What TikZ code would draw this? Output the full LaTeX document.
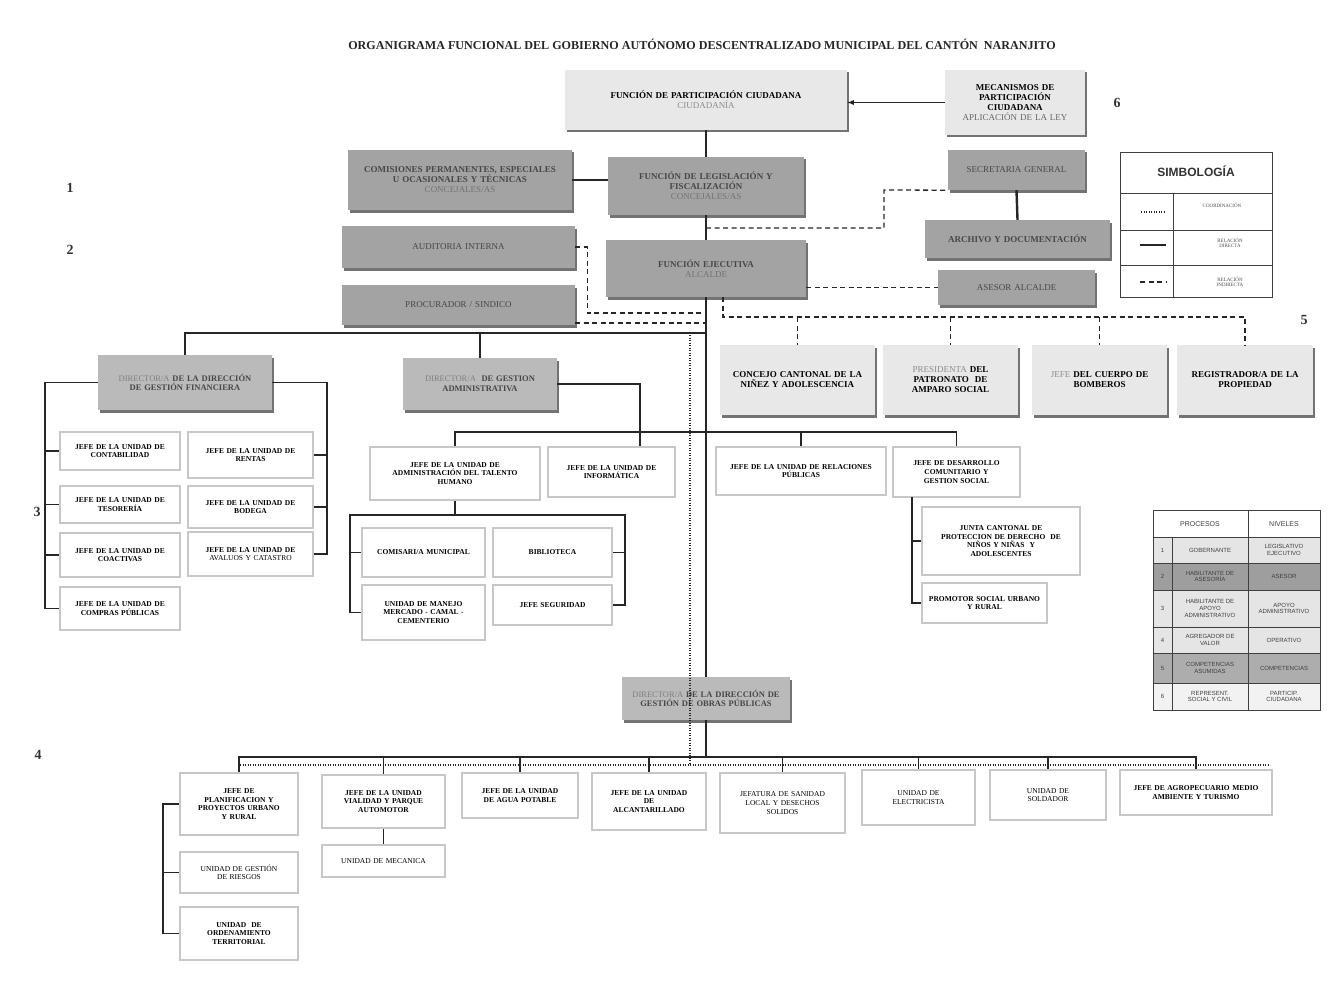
\documentclass[tikz,border=0pt]{standalone}
\usepackage{fontspec}
\setmainfont{Liberation Serif}
\newfontfamily\legendfont{Liberation Sans}
\usetikzlibrary{shadows}

\begin{document}
\begin{tikzpicture}[x=1pt, y=-1pt,
  every node/.style={align=center, inner xsep=4pt, inner ysep=2pt},
  big/.style={font=\fontsize{9}{10}\selectfont\bfseries},
  txt/.style={font=\fontsize{7.5}{8.6}\selectfont\bfseries},
  shade/.style={drop shadow={shadow xshift=1.5pt, shadow yshift=-2.5pt, fill=black!55, opacity=1}},
  light/.style={big, fill=black!9, shade},
  dark/.style={big, fill=black!36, text=black!72, shade},
  head/.style={dark, fill=black!27, font=\fontsize{8.5}{9.6}\selectfont\bfseries},
  unit/.style={txt, fill=white, draw=black!22, line width=1.8pt},
  num/.style={font=\fontsize{14}{16}\selectfont\bfseries, text=black!80},
  tab/.style={font=\legendfont\fontsize{6}{6.8}\selectfont, text=black!75, inner sep=0pt},
  conn/.style={draw=black!85, line width=1.3pt},
  trunk/.style={draw=black!85, line width=2.4pt},
  indirect/.style={draw=black!85, line width=1.3pt, dash pattern=on 5pt off 3.5pt},
  coord/.style={draw=black!85, line width=1.7pt, dash pattern=on 1.2pt off 1.3pt}]

\path[fill=white] (0,0) rectangle (1336,1006);
\useasboundingbox (0,0) rectangle (1336,1006);

\node[font=\fontsize{12.1}{14}\selectfont\bfseries, text=black!85] (T) at (702,44) {ORGANIGRAMA FUNCIONAL DEL GOBIERNO AUT\'ONOMO DESCENTRALIZADO MUNICIPAL DEL CANT\'ON \ NARANJITO};

\node[light, text width=274pt, minimum height=60pt] (PC) at (706,100) {FUNCI\'ON DE PARTICIPACI\'ON CIUDADANA\\{\mdseries\color{black!45}CIUDADAN\'IA}};
\node[light, text width=132pt, minimum height=65pt] (MP) at (1015,102.5) {MECANISMOS DE\\PARTICIPACI\'ON\\CIUDADANA\\{\mdseries\color{black!60}APLICACI\'ON DE LA LEY}};
\node[num] (N6) at (1117,103) {6};

\node[dark, text width=216pt, minimum height=60pt] (CP) at (460,180) {COMISIONES PERMANENTES, ESPECIALES\\U OCASIONALES Y T\'ECNICAS\\{\mdseries\color{black!55}CONCEJALES/AS}};
\node[dark, text width=188pt, minimum height=58pt] (LF) at (706,186) {FUNCI\'ON DE LEGISLACI\'ON Y\\FISCALIZACI\'ON\\{\mdseries\color{black!55}CONCEJALES/AS}};
\node[dark, text width=225pt, minimum height=42pt] (AI) at (458.5,247) {\mdseries AUDITORIA INTERNA};
\node[dark, text width=225pt, minimum height=40pt] (PS) at (458.5,305) {\mdseries PROCURADOR / SINDICO};
\node[dark, text width=192pt, minimum height=57pt] (FE) at (706,268.5) {FUNCI\'ON EJECUTIVA\\{\mdseries\color{black!55}ALCALDE}};
\node[dark, text width=129pt, minimum height=40pt] (SG) at (1016.5,170) {\mdseries SECRETARIA GENERAL};
\node[dark, text width=177pt, minimum height=38pt] (AD) at (1017.5,239) {ARCHIVO Y DOCUMENTACI\'ON};
\node[dark, text width=149pt, minimum height=35pt] (AA) at (1016.5,287.5) {\mdseries ASESOR ALCALDE};

\node[num] (N1) at (70,188) {1};
\node[num] (N2) at (70,250) {2};
\node[num] (N3) at (37,512) {3};
\node[num] (N4) at (38,755) {4};
\node[num] (N5) at (1304,320) {5};

\node[light, text width=147pt, minimum height=70pt] (CC) at (797.5,380) {CONCEJO CANTONAL DE LA\\NI\~NEZ Y ADOLESCENCIA};
\node[light, text width=127pt, minimum height=70pt] (PA) at (950.5,380) {{\mdseries\color{black!45}PRESIDENTA} DEL\\PATRONATO \ DE\\AMPARO SOCIAL};
\node[light, text width=127pt, minimum height=70pt] (CB) at (1099.5,380) {{\mdseries\color{black!45}JEFE} DEL CUERPO DE\\BOMBEROS};
\node[light, text width=128pt, minimum height=70pt] (RP) at (1245,380) {REGISTRADOR/A DE LA\\PROPIEDAD};

\node[head, text width=166pt, minimum height=55pt] (GF) at (185,382.5) {{\mdseries\color{black!50}DIRECTOR/A} DE LA DIRECCI\'ON\\DE GESTI\'ON FINANCIERA};
\node[head, text width=146pt, minimum height=52pt] (GA) at (480,384) {{\mdseries\color{black!50}DIRECTOR/A} \ DE GESTION\\ADMINISTRATIVA};

\node[unit, text width=112pt, minimum height=38pt] (CT) at (120,451) {JEFE DE LA UNIDAD DE\\CONTABILIDAD};
\node[unit, text width=112pt, minimum height=37pt] (TS) at (120,504.5) {JEFE DE LA UNIDAD DE\\TESORER\'IA};
\node[unit, text width=112pt, minimum height=44pt] (CA) at (120,555) {JEFE DE LA UNIDAD DE\\COACTIVAS};
\node[unit, text width=112pt, minimum height=43pt] (CM) at (120,608.5) {JEFE DE LA UNIDAD DE\\COMPRAS P\'UBLICAS};
\node[unit, text width=117pt, minimum height=46pt] (RE) at (250.5,455) {JEFE DE LA UNIDAD DE\\RENTAS};
\node[unit, text width=117pt, minimum height=42pt] (BO) at (250.5,507) {JEFE DE LA UNIDAD DE\\BODEGA};
\node[unit, text width=117pt, minimum height=44pt] (AV) at (250.5,554) {JEFE DE LA UNIDAD DE\\{\mdseries AVALUOS Y CATASTRO}};

\node[unit, text width=162pt, minimum height=53pt] (TH) at (455,473.5) {JEFE DE LA UNIDAD DE\\ADMINISTRACI\'ON DEL TALENTO\\HUMANO};
\node[unit, text width=119pt, minimum height=50pt] (IN) at (611.5,472) {JEFE DE LA UNIDAD DE\\INFORM\'ATICA};
\node[unit, text width=115pt, minimum height=49pt] (CS) at (423.5,552.5) {COMISARI/A MUNICIPAL};
\node[unit, text width=111pt, minimum height=49pt] (BI) at (552.5,552.5) {BIBLIOTECA};
\node[unit, text width=115pt, minimum height=55pt] (UM) at (423.5,612.5) {UNIDAD DE MANEJO\\MERCADO - CAMAL -\\CEMENTERIO};
\node[unit, text width=111pt, minimum height=40pt] (JS) at (552.5,605) {JEFE SEGURIDAD};

\node[unit, text width=162pt, minimum height=48pt] (RR) at (801,471) {JEFE DE LA UNIDAD DE RELACIONES\\P\'UBLICAS};
\node[unit, text width=119pt, minimum height=50pt] (DC) at (956.5,472) {JEFE DE DESARROLLO\\COMUNITARIO Y\\GESTION SOCIAL};
\node[unit, text width=150pt, minimum height=68pt] (JC) at (1001,541) {JUNTA CANTONAL DE\\PROTECCION DE DERECHO \ DE\\NI\~NOS Y NI\~NAS \ Y\\ADOLESCENTES};
\node[unit, text width=117pt, minimum height=40pt] (PR) at (984.5,603) {PROMOTOR SOCIAL URBANO\\Y RURAL};

\node[head, text width=160pt, minimum height=43pt] (OP) at (706,698.5) {{\mdseries\color{black!50}DIRECTOR/A} DE LA DIRECCI\'ON DE\\GESTI\'ON DE OBRAS P\'UBLICAS};

\node[unit, text width=110pt, minimum height=62pt] (PL) at (239,804) {JEFE DE\\PLANIFICACION Y\\PROYECTOS URBANO\\Y RURAL};
\node[unit, text width=115pt, minimum height=53pt] (VI) at (383.5,801.5) {JEFE DE LA UNIDAD\\VIALIDAD Y PARQUE\\AUTOMOTOR};
\node[unit, text width=108pt, minimum height=45pt] (AP) at (520,795.5) {JEFE DE LA UNIDAD\\DE AGUA POTABLE};
\node[unit, text width=106pt, minimum height=57pt] (AL) at (649,801.5) {JEFE DE LA UNIDAD\\DE\\ALCANTARILLADO};
\node[unit, text width=117pt, minimum height=60pt, font=\fontsize{7.5}{8.6}\selectfont] (SA) at (782.5,803) {JEFATURA DE SANIDAD\\LOCAL Y DESECHOS\\SOLIDOS};
\node[unit, text width=105pt, minimum height=55pt, font=\fontsize{7.5}{8.6}\selectfont] (EL) at (918.5,797.5) {UNIDAD DE\\ELECTRICISTA};
\node[unit, text width=108pt, minimum height=50pt, font=\fontsize{7.5}{8.6}\selectfont] (SO) at (1048,795) {UNIDAD DE\\SOLDADOR};
\node[unit, text width=144pt, minimum height=45pt] (AG) at (1196,792.5) {JEFE DE AGROPECUARIO MEDIO\\AMBIENTE Y TURISMO};
\node[unit, text width=115pt, minimum height=32pt, font=\fontsize{7.5}{8.6}\selectfont] (ME) at (383.5,861) {UNIDAD DE MECANICA};
\node[unit, text width=110pt, minimum height=41pt, font=\fontsize{7.5}{8.6}\selectfont] (GR) at (239,872.5) {UNIDAD DE GESTI\'ON\\DE RIESGOS};
\node[unit, text width=110pt, minimum height=53pt] (OT) at (239,933.5) {UNIDAD \ DE\\ORDENAMIENTO\\TERRITORIAL};

\coordinate (hA) at (706,333);
\coordinate (hB) at (706,432);
\coordinate (hC) at (706,757);
\coordinate (tA) at (706,313);
\coordinate (tB) at (706,323);
\coordinate (tC) at (706,228);
\coordinate (sC) at (884,190);
\coordinate (r5) at (723,317);
\coordinate (dT) at (690,335);
\coordinate (dL) at (240,765);
\coordinate (dR) at (1270,765);
\coordinate (fL) at (45,383);
\coordinate (fR) at (327,383);
\coordinate (aR) at (640,384);
\coordinate (tL) at (350,515);
\coordinate (tR) at (625,515);
\coordinate (dC) at (912,497);
\coordinate (pL) at (163,805);

\draw[conn, -latex] (MP.west) -- (MP.west -| PC.east);
\draw[trunk] (PC.south) -- (LF.north);
\draw[trunk] (LF.south) -- (FE.north);
\draw[conn] (CP.east) -- (CP.east -| LF.west);
\draw[trunk] (SG.south) -- (AD.north);
\draw[trunk] (FE.south) -- (OP.north);
\draw[trunk] (OP.south) -- (hC);

\draw[indirect] (tC) -| (sC) -- (SG.south west);
\draw[indirect] (FE.east |- AA.west) -- (AA.west);
\draw[indirect] (AI.east) -- ++(12,0) |- (tA);
\draw[indirect] (PS.east |- tB) -- (tB);
\draw[indirect] (r5 |- FE.south) |- (r5 -| RP.north) -- (RP.north);
\draw[indirect] (r5 -| CC.north) -- (CC.north);
\draw[indirect] (r5 -| PA.north) -- (PA.north);
\draw[indirect] (r5 -| CB.north) -- (CB.north);

\draw[conn] (GF.north) |- (hA);
\draw[conn] (hA -| GA.north) -- (GA.north);
\draw[coord] (dT) -- (dT |- dL);
\draw[coord] (dL) -- (dR);

\draw[conn] (GF.west) -| (fL |- CM.west) -- (CM.west);
\draw[conn] (fL |- CT.west) -- (CT.west);
\draw[conn] (fL |- TS.west) -- (TS.west);
\draw[conn] (fL |- CA.west) -- (CA.west);
\draw[conn] (GF.east) -| (fR |- AV.east) -- (AV.east);
\draw[conn] (fR |- RE.east) -- (RE.east);
\draw[conn] (fR |- BO.east) -- (BO.east);

\draw[conn] (GA.east) -| (aR |- IN.north);
\draw[conn] (TH.north) |- (hB) -| (DC.north);
\draw[conn] (hB -| RR.north) -- (RR.north);
\draw[conn] (TH.south) -- (TH.south |- tL);
\draw[conn] (UM.west) -| (tL) -| (tR |- JS.east) -- (JS.east);
\draw[conn] (tL |- CS.west) -- (CS.west);
\draw[conn] (tR |- BI.east) -- (BI.east);

\draw[conn] (dC) |- (PR.west);
\draw[conn] (dC |- JC.west) -- (JC.west);

\draw[conn] (PL.north) |- (hC) -| (AG.north);
\draw[conn] (hC -| VI.north) -- (VI.north);
\draw[conn] (hC -| AP.north) -- (AP.north);
\draw[conn] (hC -| AL.north) -- (AL.north);
\draw[conn] (hC -| SA.north) -- (SA.north);
\draw[conn] (hC -| EL.north) -- (EL.north);
\draw[conn] (hC -| SO.north) -- (SO.north);
\draw[conn] (VI.south) -- (ME.north);
\draw[conn] (PL.west) -| (pL |- OT.west) -- (OT.west);
\draw[conn] (pL |- GR.west) -- (GR.west);

\draw[black!75, line width=1pt] (1120,153) rectangle (1272,297);
\draw[black!75, line width=0.8pt] (1120,193) -- (1272,193) (1120,230) -- (1272,230) (1120,265) -- (1272,265) (1173,193) -- (1173,297);
\node[font=\legendfont\fontsize{12}{14}\selectfont\bfseries, text=black!80] (SY) at (1196,171) {SIMBOLOG\'IA};
\draw[coord, line width=1.2pt] (1141,212) -- (1164,212);
\draw[conn, line width=2pt] (1140,245) -- (1166,245);
\draw[indirect, line width=1.2pt] (1140,282) -- (1166,282);
\node[font=\fontsize{5}{5.6}\selectfont, text=black!70] (S1) at (1222,205) {COORDINACI\'ON};
\node[font=\fontsize{5}{5.6}\selectfont, text=black!70] (S2) at (1230,243) {RELACI\'ON\\DIRECTA};
\node[font=\fontsize{5}{5.6}\selectfont, text=black!70] (S3) at (1230,282) {RELACI\'ON\\INDIRECTA};

\fill[black!10] (1153,537) rectangle (1320,563);
\fill[black!38] (1153,563) rectangle (1320,590);
\fill[black!10] (1153,590) rectangle (1320,653);
\fill[black!32] (1153,653) rectangle (1320,683);
\fill[black!5] (1153,683) rectangle (1320,710);
\draw[black!75, line width=1pt] (1153,510) rectangle (1320,710);
\draw[black!75, line width=0.8pt] (1153,537) -- (1320,537) (1153,563) -- (1320,563) (1153,590) -- (1320,590) (1153,627) -- (1320,627) (1153,653) -- (1320,653) (1153,683) -- (1320,683) (1248,510) -- (1248,710) (1172,537) -- (1172,710);
\node[tab, font=\legendfont\fontsize{7}{8}\selectfont] (TP) at (1200,524) {PROCESOS};
\node[tab, font=\legendfont\fontsize{7}{8}\selectfont] (TN) at (1284,524) {NIVELES};
\node[tab] (P1) at (1162.5,550) {1};
\node[tab] (P2) at (1162.5,576.5) {2};
\node[tab] (P3) at (1162.5,608.5) {3};
\node[tab] (P4) at (1162.5,640) {4};
\node[tab] (P5) at (1162.5,668) {5};
\node[tab] (P6) at (1162.5,696.5) {6};
\node[tab] (Q1) at (1210,550) {GOBERNANTE};
\node[tab] (Q2) at (1210,576.5) {HABILITANTE DE\\ASESOR\'IA};
\node[tab] (Q3) at (1210,608.5) {HABILITANTE DE\\APOYO\\ADMINISTRATIVO};
\node[tab] (Q4) at (1210,640) {AGREGADOR DE\\VALOR};
\node[tab] (Q5) at (1210,668) {COMPETENCIAS\\ASUMIDAS};
\node[tab] (Q6) at (1210,696.5) {REPRESENT.\\SOCIAL Y CIVIL};
\node[tab] (L1) at (1284,550) {LEGISLATIVO\\EJECUTIVO};
\node[tab] (L2) at (1284,576.5) {ASESOR};
\node[tab] (L3) at (1284,608.5) {APOYO\\ADMINISTRATIVO};
\node[tab] (L4) at (1284,640) {OPERATIVO};
\node[tab] (L5) at (1284,668) {COMPETENCIAS};
\node[tab] (L6) at (1284,696.5) {PARTICIP.\\CIUDADANA};
\end{tikzpicture}
\end{document}
